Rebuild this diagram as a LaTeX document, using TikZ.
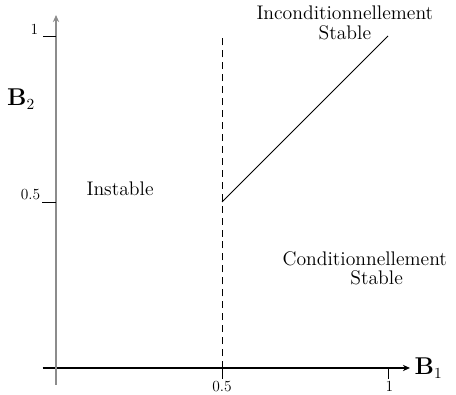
\documentclass[tikz,border=0pt]{standalone}
\usetikzlibrary{arrows.meta}

\begin{document}
\begin{tikzpicture}[
  x=8.3cm, y=8.3cm,
  axe/.style={line width=0.8pt, -{Stealth[length=5pt,width=4.5pt]}},
  graduation/.style={line width=0.6pt},
  etiquette/.style={font=\fontsize{11}{13}\selectfont, inner sep=1pt},
  zone/.style={font=\fontsize{14}{16}\selectfont, align=center, inner sep=0pt}
]

  % cadre (marges de l'image)
  \useasboundingbox (-0.1687,-0.0813) rectangle (1.2048,1.1084);

  % ==========================================
  % 1. AXES
  % ==========================================
  \coordinate (O) at (0,0);
  \coordinate (xdebut) at (-0.04,0);
  \coordinate (xfin) at (1.066,0);
  \coordinate (ydebut) at (0,-0.051);
  \coordinate (yfin) at (0,1.063);

  \draw[axe] (xdebut) -- (xfin);
  \draw[axe, black!45] (ydebut) -- (yfin);

  \node[font=\fontsize{16}{18}\selectfont, anchor=west, inner sep=1pt] (B1) at (1.075,0) {$\mathbf{B}_1$};
  \node[font=\fontsize{16}{18}\selectfont, inner sep=1pt] (B2) at (-0.105,0.81) {$\mathbf{B}_2$};

  % ==========================================
  % 2. GRADUATIONS
  % ==========================================
  \coordinate (x05) at (0.5,0);
  \coordinate (x1) at (1,0);
  \coordinate (y05) at (0,0.5);
  \coordinate (y1) at (0,1);

  \draw[graduation] (x05) -- ++(0,-0.033) node[etiquette, anchor=north] (lx05) {0.5};
  \draw[graduation] (x1) -- ++(0,-0.033) node[etiquette, anchor=north west, xshift=-3pt] (lx1) {1};
  \draw[graduation] (y05) -- ++(-0.042,0) node[etiquette, anchor=south east] (ly05) {0.5};
  \draw[graduation] (y1) -- ++(-0.04,0) node[etiquette, anchor=south east, xshift=-2pt] (ly1) {1};

  % ==========================================
  % 3. FRONTIERES
  % ==========================================
  \coordinate (haut05) at (0.5,1);
  \coordinate (P) at (0.5,0.5);
  \coordinate (Q) at (1,1);

  \draw[line width=0.6pt, dash pattern=on 5pt off 3.5pt] (x05) -- (haut05);
  \draw[line width=0.6pt] (P) -- (Q);

  % ==========================================
  % 4. ZONES
  % ==========================================
  \node[zone] (instable) at (0.193,0.54) {Instable};
  \node[zone] (incond) at (0.87,1.04) {Inconditionnellement\\[-2pt]Stable};
  \node[zone] (cond) at (0.93,0.3) {Conditionnellement\\[-2pt]\hspace*{1.2em}Stable};

\end{tikzpicture}
\end{document}
